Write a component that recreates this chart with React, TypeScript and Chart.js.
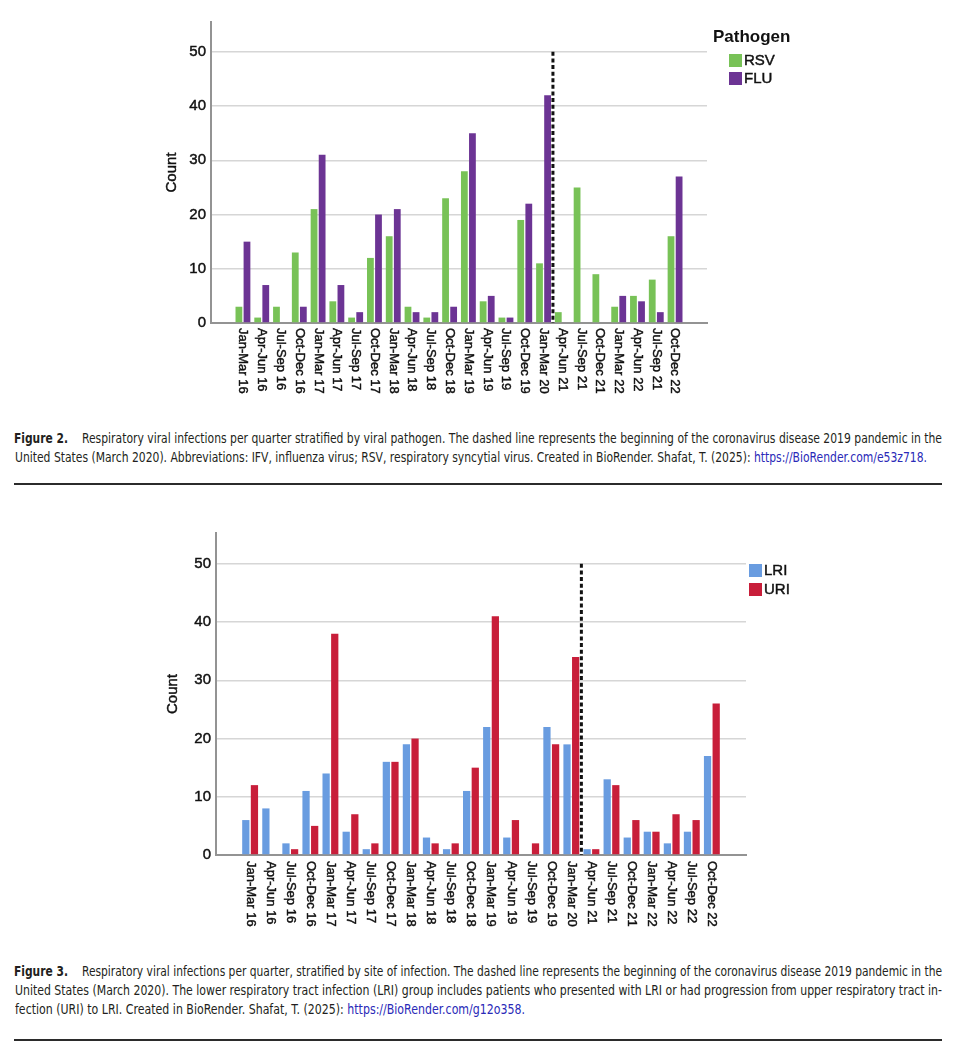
import React, { useEffect, useLayoutEffect, useRef } from "react";
import { Chart, registerables } from "chart.js";

Chart.register(...registerables);

// ---------- data ----------
const fig2Labels = [
  "Jan-Mar 16", "Apr-Jun 16", "Jul-Sep 16", "Oct-Dec 16",
  "Jan-Mar 17", "Apr-Jun 17", "Jul-Sep 17", "Oct-Dec 17",
  "Jan-Mar 18", "Apr-Jun 18", "Jul-Sep 18", "Oct-Dec 18",
  "Jan-Mar 19", "Apr-Jun 19", "Jul-Sep 19", "Oct-Dec 19",
  "Jan-Mar 20", "Apr-Jun 21", "Jul-Sep 21", "Oct-Dec 21",
  "Jan-Mar 22", "Apr-Jun 22", "Jul-Sep 21", "Oct-Dec 22",
];
const fig3Labels = [
  "Jan-Mar 16", "Apr-Jun 16", "Jul-Sep 16", "Oct-Dec 16",
  "Jan-Mar 17", "Apr-Jun 17", "Jul-Sep 17", "Oct-Dec 17",
  "Jan-Mar 18", "Apr-Jun 18", "Jul-Sep 18", "Oct-Dec 18",
  "Jan-Mar 19", "Apr-Jun 19", "Jul-Sep 19", "Oct-Dec 19",
  "Jan-Mar 20", "Apr-Jun 21", "Jul-Sep 21", "Oct-Dec 21",
  "Jan-Mar 22", "Apr-Jun 22", "Jul-Sep 22", "Oct-Dec 22",
];
const rsvCounts = [3, 1, 3, 13, 21, 4, 1, 12, 16, 3, 1, 23, 28, 4, 1, 19, 11, 2, 25, 9, 3, 5, 8, 16];
const fluCounts = [15, 7, 0, 3, 31, 7, 2, 20, 21, 2, 2, 3, 35, 5, 1, 22, 42, 0, 0, 0, 5, 4, 2, 27];
const lriCounts = [6, 8, 2, 11, 14, 4, 1, 16, 19, 3, 1, 11, 22, 3, 0, 22, 19, 1, 13, 3, 4, 2, 4, 17];
const uriCounts = [12, 0, 1, 5, 38, 7, 2, 16, 20, 2, 2, 15, 41, 6, 2, 19, 34, 1, 12, 6, 4, 7, 6, 26];
const yTickStep = 10;
const yTop = 50;
const pandemicAfterLabel = "Jan-Mar 20";
const fig2LegendTitle = "Pathogen";

const FONT = '"Liberation Sans", Arial, Helvetica, sans-serif';
const CAPTION_FONT = '"Liberation Sans Narrow", "DejaVu Sans Condensed", "Liberation Sans", Arial, sans-serif';
const Y_AXIS_W = 60;
const X_AXIS_H = 80;
const SIDE_PAD = 1.7;
const TEXT_COLOR = "#111";
const STROKE_W = 0.45;

type Series = { label: string; values: number[]; color: string };
type Area = { left: number; right: number; top: number; bottom: number };

function heavyText(ctx: CanvasRenderingContext2D, s: string, x: number, y: number) {
  ctx.fillText(s, x, y);
  ctx.lineWidth = STROKE_W;
  ctx.strokeStyle = ctx.fillStyle as string;
  ctx.strokeText(s, x, y);
}

const decorPlugin = {
  id: "decor",
  afterDatasetsDraw(chart: any, _args: any, opts: any) {
    const { ctx, scales } = chart;
    const x = scales.x;
    const y = scales.y;
    const bx = x.getPixelForValue(opts.breakAt);
    ctx.save();
    ctx.strokeStyle = "#111";
    ctx.lineWidth = 3;
    ctx.setLineDash([4, 2.6]);
    ctx.beginPath();
    ctx.moveTo(bx, y.getPixelForValue(opts.yTop));
    ctx.lineTo(bx, y.getPixelForValue(0));
    ctx.stroke();
    ctx.restore();
  },
  afterDraw(chart: any, _args: any, opts: any) {
    const { ctx, chartArea, scales } = chart;
    const x = scales.x;
    // rotated category labels
    ctx.save();
    ctx.fillStyle = TEXT_COLOR;
    ctx.font = `13px ${FONT}`;
    ctx.textAlign = "left";
    ctx.textBaseline = "middle";
    (opts.labels as string[]).forEach((lab, i) => {
      const px = x.getPixelForValue(i);
      ctx.save();
      ctx.translate(px, chartArea.bottom + opts.labelGap);
      ctx.rotate(Math.PI / 2);
      heavyText(ctx, lab, 0, 0);
      ctx.restore();
    });
    ctx.restore();

    // y title
    ctx.save();
    ctx.fillStyle = TEXT_COLOR;
    ctx.font = `15px ${FONT}`;
    ctx.textAlign = "center";
    ctx.textBaseline = "middle";
    ctx.translate(chartArea.left - opts.yTitleOffset, (chartArea.top + chartArea.bottom) / 2);
    ctx.rotate(-Math.PI / 2);
    heavyText(ctx, "Count", 0, 0);
    ctx.restore();

    // legend
    ctx.save();
    const lg = opts.legend;
    if (lg.title) {
      ctx.fillStyle = TEXT_COLOR;
      ctx.font = `bold 17px ${FONT}`;
      ctx.textAlign = "left";
      ctx.textBaseline = "middle";
      ctx.fillText(lg.title, lg.titleX, lg.titleY);
    }
    chart.data.datasets.forEach((ds: any, i: number) => {
      const sy = lg.y + i * lg.pitch;
      ctx.fillStyle = ds.backgroundColor;
      ctx.fillRect(lg.x, sy, 13, 13);
      ctx.fillStyle = TEXT_COLOR;
      ctx.font = `15px ${FONT}`;
      ctx.textAlign = "left";
      ctx.textBaseline = "middle";
      heavyText(ctx, ds.label, lg.x + 15, sy + 7);
    });
    ctx.restore();
  },
};

function BarFigure(props: {
  top: number;
  height: number;
  labels: string[];
  series: Series[];
  yMax: number;
  area: Area;
  labelGap: number;
  yTitleOffset: number;
  legend: any;
}) {
  const ref = useRef<HTMLCanvasElement | null>(null);
  useEffect(() => {
    if (!ref.current) return;
    const { labels, series, yMax, area, height } = props;
    const breakAt = labels.indexOf(pandemicAfterLabel) + 0.5;
    const xMin = -SIDE_PAD;
    const xMax = labels.length - 1 + SIDE_PAD;
    const chart = new Chart(ref.current, {
      type: "bar",
      data: {
        datasets: series.map((s) => ({
          label: s.label,
          data: s.values.map((v, i) => ({ x: i, y: v })),
          backgroundColor: s.color,
          borderWidth: 0,
          categoryPercentage: 0.86,
          barPercentage: 0.84,
        })),
      },
      options: {
        responsive: false,
        animation: false,
        devicePixelRatio: 1,
        layout: {
          padding: {
            left: area.left - Y_AXIS_W,
            right: 960 - area.right,
            top: area.top,
            bottom: height - area.bottom - X_AXIS_H,
          },
        },
        plugins: {
          legend: { display: false },
          tooltip: { enabled: false },
          decor: {
            breakAt,
            yTop,
            labels,
            labelGap: props.labelGap,
            yTitleOffset: props.yTitleOffset,
            legend: props.legend,
          },
        } as any,
        scales: {
          x: {
            type: "linear",
            bounds: "data",
            offset: false,
            min: xMin,
            max: xMax,
            grid: { display: false, offset: false },
            ticks: { display: false },
            border: { display: true, color: "#939393", width: 2 },
            afterBuildTicks: (s: any) => {
              s.min = xMin;
              s.max = xMax;
            },
            afterFit: (s: any) => {
              s.height = X_AXIS_H;
            },
          },
          y: {
            min: 0,
            max: yMax,
            bounds: "data",
            ticks: {
              stepSize: yTickStep,
              color: TEXT_COLOR,
              font: { family: FONT, size: 15 },
              padding: 5,
              textStrokeColor: TEXT_COLOR,
              textStrokeWidth: STROKE_W,
            },
            afterBuildTicks: (s: any) => {
              s.ticks = s.ticks.filter((t: any) => t.value % yTickStep === 0);
              s.min = 0;
              s.max = yMax;
            },
            afterFit: (s: any) => {
              s.width = Y_AXIS_W;
            },
            grid: { color: "#d6d6d6", lineWidth: 1.5, drawTicks: false },
            border: { display: true, color: "#939393", width: 2 },
          },
        },
      },
      plugins: [decorPlugin],
    } as any);
    return () => chart.destroy();
  }, []);
  return (
    <canvas
      ref={ref}
      width={960}
      height={props.height}
      style={{ position: "absolute", left: 0, top: props.top, width: 960, height: props.height }}
    />
  );
}

function FitLine(props: { left: number; center: number; width: number; bold?: boolean; children: React.ReactNode }) {
  const ref = useRef<HTMLSpanElement | null>(null);
  useLayoutEffect(() => {
    const el = ref.current;
    if (!el) return;
    el.style.transform = "none";
    const w = el.getBoundingClientRect().width;
    if (w > 0) el.style.transform = `scaleX(${props.width / w})`;
  });
  return (
    <span
      ref={ref}
      style={{
        position: "absolute",
        left: props.left,
        top: props.center - 10,
        height: 20,
        lineHeight: "20px",
        whiteSpace: "nowrap",
        transformOrigin: "0 50%",
        fontFamily: CAPTION_FONT,
        fontSize: 14,
        fontWeight: props.bold ? 700 : 400,
        color: "#231f20",
      }}
    >
      {props.children}
    </span>
  );
}

const LINK = { color: "#2a2ab8" };

export default function App() {
  return (
    <div
      style={{
        position: "absolute",
        left: 0,
        top: 0,
        width: 960,
        height: 1056,
        background: "#fff",
        overflow: "hidden",
      }}
    >
      <BarFigure
        top={0}
        height={420}
        labels={fig2Labels}
        series={[
          { label: "RSV", values: rsvCounts, color: "#78c257" },
          { label: "FLU", values: fluCounts, color: "#6c3494" },
        ]}
        yMax={55.5}
        area={{ left: 211, right: 707, top: 22, bottom: 323 }}
        labelGap={5}
        yTitleOffset={39}
        legend={{ title: fig2LegendTitle, titleX: 713, titleY: 37, x: 729, y: 54, pitch: 18 }}
      />
      <FitLine left={14} center={438} width={54} bold>Figure 2.</FitLine>
      <FitLine left={82} center={438} width={860}>
        Respiratory viral infections per quarter stratified by viral pathogen. The dashed line represents the beginning of the coronavirus disease 2019 pandemic in the
      </FitLine>
      <FitLine left={15} center={457} width={912}>
        United States (March 2020). Abbreviations: IFV, influenza virus; RSV, respiratory syncytial virus. Created in BioRender. Shafat, T. (2025):{" "}
        <span style={LINK}>https://BioRender.com/e53z718.</span>
      </FitLine>
      <div style={{ position: "absolute", left: 14, top: 483, width: 928, height: 1.5, background: "#2b2b2b" }} />

      <BarFigure
        top={500}
        height={450}
        labels={fig3Labels}
        series={[
          { label: "LRI", values: lriCounts, color: "#699ce0" },
          { label: "URI", values: uriCounts, color: "#c81e3a" },
        ]}
        yMax={55.3}
        area={{ left: 216, right: 746, top: 33, bottom: 355 }}
        labelGap={6}
        yTitleOffset={43}
        legend={{ x: 749, y: 64, pitch: 19 }}
      />
      <FitLine left={14} center={971} width={54} bold>Figure 3.</FitLine>
      <FitLine left={82} center={971} width={860}>
        Respiratory viral infections per quarter, stratified by site of infection. The dashed line represents the beginning of the coronavirus disease 2019 pandemic in the
      </FitLine>
      <FitLine left={15} center={990} width={927}>
        United States (March 2020). The lower respiratory tract infection (LRI) group includes patients who presented with LRI or had progression from upper respiratory tract in-
      </FitLine>
      <FitLine left={15} center={1009} width={510}>
        fection (URI) to LRI. Created in BioRender. Shafat, T. (2025):{" "}
        <span style={LINK}>https://BioRender.com/g12o358.</span>
      </FitLine>
      <div style={{ position: "absolute", left: 14, top: 1039, width: 928, height: 1.5, background: "#2b2b2b" }} />
    </div>
  );
}
